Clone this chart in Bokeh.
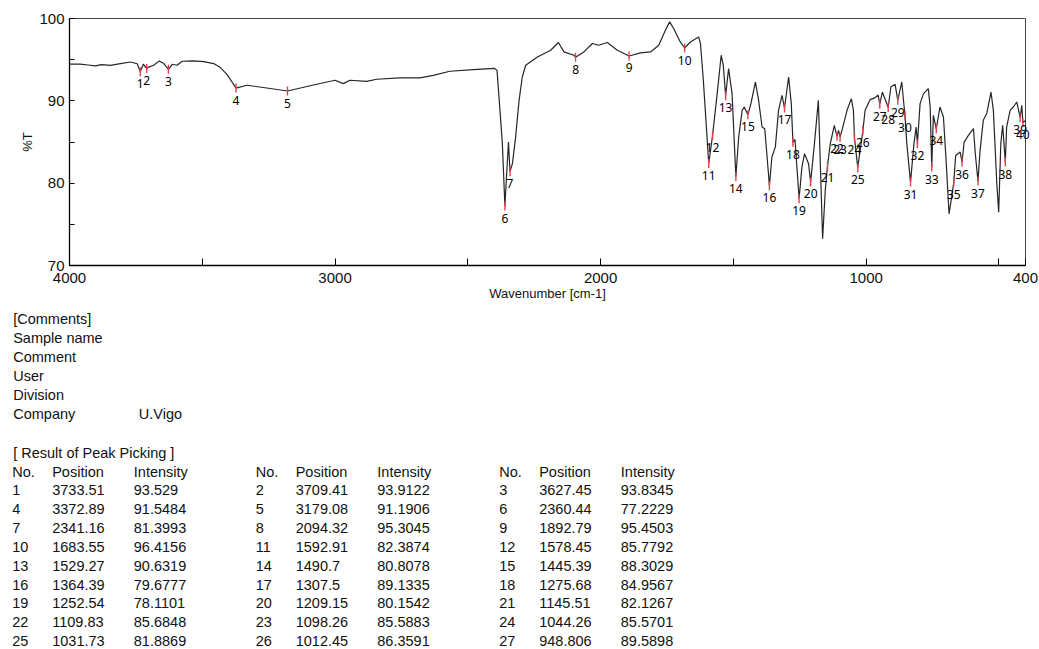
import numpy as np
from bokeh.plotting import figure
from bokeh.models import Range1d, FixedTicker
from bokeh.layouts import column
from bokeh.embed import file_html
from bokeh.resources import INLINE
from bokeh.core.properties import value

# ---------------- data ----------------
wavenumber = [
    4000, 3960, 3930, 3902, 3880, 3846, 3808, 3771, 3745, 3733.51, 3722, 3709.41,
    3702, 3683, 3662, 3645, 3627.45, 3613, 3595, 3576, 3533, 3495, 3457, 3432,
    3407, 3388, 3372.89, 3332, 3257, 3179.08, 3069, 3000, 2969, 2944, 2881, 2843,
    2756, 2680, 2630, 2568, 2480, 2400, 2390, 2370, 2360.44, 2347, 2341.16, 2332,
    2320, 2307, 2295, 2282, 2238, 2188, 2159, 2138, 2101, 2094.32, 2063, 2031,
    2007, 1975, 1937, 1892.79, 1850, 1812, 1781, 1756, 1740, 1725, 1700, 1683.55,
    1662, 1631, 1624, 1614, 1605, 1592.91, 1578.45, 1561, 1546, 1538, 1529.27,
    1518, 1505, 1490.7, 1480, 1467, 1459, 1445.39, 1434, 1417, 1405, 1392, 1382,
    1373, 1364.39, 1355, 1342, 1330, 1317, 1307.5, 1292, 1282, 1275.68, 1268,
    1252.54, 1242, 1232, 1217, 1209.15, 1196, 1180, 1164, 1154, 1145.51, 1135,
    1120, 1109.83, 1104, 1098.26, 1091, 1072, 1056, 1048, 1044.26, 1031.73,
    1012.45, 1004, 985, 966, 955, 948.806, 939, 917, 907, 891, 881, 866, 854, 847,
    833, 820, 812, 807, 797, 784, 766, 759, 753, 747, 736, 722, 709, 699, 688, 678,
    670, 663, 646, 639, 631, 615, 596, 589, 579, 571, 559, 546, 530, 521, 508, 501,
    493, 486, 476, 471, 458, 446, 433, 420, 414, 410, 400,
]
transmittance = [
    94.45, 94.45, 94.35, 94.24, 94.40, 94.30, 94.53, 94.72, 94.50, 93.529, 94.45, 93.9122,
    94.10, 94.32, 94.85, 94.53, 93.8345, 94.44, 94.32, 94.81, 94.85, 94.77, 94.53, 94.04,
    93.22, 92.29, 91.5484, 91.89, 91.56, 91.1906, 92.01, 92.50, 92.09, 92.50, 92.37, 92.62,
    92.78, 92.78, 93.10, 93.59, 93.80, 93.95, 93.70, 84.83, 77.2229, 85.00, 81.3993, 82.40,
    85.60, 90.06, 92.90, 94.32, 95.33, 96.14, 97.08, 95.94, 95.54, 95.3045, 95.94, 96.96,
    96.75, 97.08, 96.14, 95.4503, 95.82, 95.94, 96.75, 98.58, 99.59, 98.78, 97.15, 96.4156,
    97.15, 97.76, 96.96, 92.90, 88.45, 82.3874, 85.7792, 90.88, 95.54, 94.32, 90.6319,
    93.92, 90.88, 80.8078, 85.60, 88.85, 89.25, 88.3029, 89.66, 92.29, 90.06, 86.82, 86.62,
    83.17, 79.6777, 83.17, 84.38, 88.85, 90.67, 89.1335, 92.90, 89.66, 84.9567, 85.30,
    78.1101, 81.95, 83.58, 82.37, 80.1542, 84.38, 90.06, 73.24, 79.12, 82.1267, 84.80,
    87.02, 85.6848, 86.40, 85.5883, 86.42, 88.85, 90.27, 88.85, 85.5701, 81.8869,
    86.3591, 88.85, 90.15, 90.39, 90.70, 89.5898, 91.07, 89.20, 91.68, 92.01, 90.06, 92.29, 88.24, 84.80,
    80.13, 84.80, 86.82, 84.80, 89.66, 90.88, 91.49, 89.25, 81.95, 88.24, 86.60, 89.25, 88.03, 82.77, 76.28, 78.30,
    80.13, 83.37, 83.78, 82.56, 84.99, 85.81, 86.62, 83.58, 80.25, 83.98, 87.63, 88.45, 91.07, 88.85, 79.93, 76.48,
    84.80, 87.02, 82.56, 86.82, 88.85, 89.25, 89.86, 87.96, 89.46, 87.35, 87.60,
]

peak_no = list(range(1, 41))
peak_pos = [
    3733.51, 3709.41, 3627.45, 3372.89, 3179.08, 2360.44, 2341.16, 2094.32, 1892.79,
    1683.55, 1592.91, 1578.45, 1529.27, 1490.7, 1445.39, 1364.39, 1307.5, 1275.68,
    1252.54, 1209.15, 1145.51, 1109.83, 1098.26, 1044.26, 1031.73, 1012.45, 948.806,
    917, 881, 854, 833, 807, 753, 736, 670, 639, 579, 476, 420, 410,
]
peak_int = [
    93.529, 93.9122, 93.8345, 91.5484, 91.1906, 77.2229, 81.3993, 95.3045, 95.4503,
    96.4156, 82.3874, 85.7792, 90.6319, 80.8078, 88.3029, 79.6777, 89.1335, 84.9567,
    78.1101, 80.1542, 82.1267, 85.6848, 85.5883, 85.5701, 81.8869, 86.3591, 89.5898,
    89.20, 90.06, 88.24, 80.13, 84.80, 81.95, 86.60, 80.13, 82.56, 80.25, 82.56, 87.96, 87.35,
]
n_table = 27  # peaks listed in the printed table

x_major = [4000, 3000, 2000, 1000, 400]
x_minor = [3500, 2500, 1500, 500]
y_major = [70, 80, 90, 100]
y_minor = [75, 85, 95]

comments_title = "[Comments]"
comment_fields = ["Sample name", "Comment", "User", "Division", "Company"]
comment_values = ["", "", "", "", "U.Vigo"]
table_title = "[ Result of Peak Picking ]"
table_headers = ["No.", "Position", "Intensity"]

# ---------------- layout constants ----------------
W = 1039
H_TOTAL = 649
H1 = 312
H2 = H_TOTAL - H1
FRAME_L, FRAME_R = 69, 1025
FONT = value("Liberation Sans")
INK = "#111111"

# ---------------- spectrum ----------------
p = figure(width=W, height=H1, x_range=Range1d(4000, 400), y_range=Range1d(70, 100),
           output_backend="svg", toolbar_location=None,
           min_border_left=FRAME_L, min_border_right=W - FRAME_R, min_border_top=18,
           min_border_bottom=H1 - 265)
p.background_fill_color = "white"
p.border_fill_color = "white"
p.outline_line_color = "#444444"
p.outline_line_width = 1
p.grid.visible = False

p.line(wavenumber, transmittance, line_color="#262626", line_width=1.2)
p.scatter(peak_pos, peak_int, marker="dash", angle=np.pi / 2, size=9,
          line_color="#e2404e", line_width=1.4)
lbl = p.text(peak_pos, peak_int, text=[str(n) for n in peak_no], y_offset=12,
             text_align="center", text_baseline="middle", text_font=value("Noto Sans"),
             text_font_size="12px", text_color="#000000")
lbl.level = "overlay"

for ax in (p.xaxis[0], p.yaxis[0]):
    ax.axis_line_color = "black"
    ax.axis_line_width = 1.3
    ax.major_tick_line_color = "black"
    ax.minor_tick_line_color = "black"
    ax.major_tick_out = 0
    ax.minor_tick_out = 0
    ax.major_label_text_font = "Liberation Sans"
    ax.major_label_text_font_size = "15px"
    ax.major_label_text_color = INK
    ax.axis_label_text_font = "Liberation Sans"
    ax.axis_label_text_font_style = "normal"
    ax.axis_label_text_color = INK
    ax.axis_label_text_font_size = "13px"

p.xaxis.ticker = FixedTicker(ticks=x_major, minor_ticks=x_minor)
p.xaxis.major_tick_in = 7
p.xaxis.minor_tick_in = 7
p.xaxis.major_label_standoff = 7
p.xaxis.axis_label = "Wavenumber [cm-1]"
p.xaxis.axis_label_standoff = 0

p.yaxis.ticker = FixedTicker(ticks=y_major, minor_ticks=y_minor)
p.yaxis.major_tick_in = 5
p.yaxis.minor_tick_in = 5
p.yaxis.major_label_standoff = 5
p.yaxis.axis_label = "%T"
p.yaxis.axis_label_standoff = 1

# ---------------- text block (comments + peak table) ----------------
# The column layout aligns this frame with the spectrum frame, so the x range
# is chosen to map data x onto page pixels; texts are drawn unclipped.
q = figure(width=W, height=H2, x_range=Range1d(FRAME_L, FRAME_R), y_range=Range1d(H_TOTAL, H1),
           output_backend="svg", toolbar_location=None,
           min_border_left=FRAME_L, min_border_right=W - FRAME_R,
           min_border_top=0, min_border_bottom=0,
           x_axis_type=None, y_axis_type=None)
q.outline_line_color = None
q.grid.visible = False
q.background_fill_color = "white"
q.border_fill_color = "white"

tx, ty, tt = [], [], []
left = 12.7
c_y0, c_step = 318.3, 19.1
tx.append(left); ty.append(c_y0); tt.append(comments_title)
for i, (f, v) in enumerate(zip(comment_fields, comment_values)):
    yy = c_y0 + c_step * (i + 1)
    tx.append(left); ty.append(yy); tt.append(f)
    if v:
        tx.append(138.3); ty.append(yy); tt.append(v)

tx.append(left); ty.append(452.7); tt.append(table_title)
col_x = [11.7, 51.7, 133.3]
group_dx = [0, 243.5, 487.0]
head_y, row_step = 471.0, 18.85
for g in range(3):
    for c in range(3):
        tx.append(col_x[c] + group_dx[g]); ty.append(head_y); tt.append(table_headers[c])
for k in range(n_table):
    r, g = divmod(k, 3)
    yy = head_y + row_step * (r + 1)
    vals = [str(peak_no[k]), f"{peak_pos[k]:.6g}", f"{peak_int[k]:.6g}"]
    for c in range(3):
        tx.append(col_x[c] + group_dx[g]); ty.append(yy); tt.append(vals[c])

txt = q.text(tx, ty, text=tt, text_align="left", text_baseline="middle",
             text_font=FONT, text_font_size="14.5px", text_color=INK)
txt.level = "overlay"

layout = column(p, q, spacing=0)
open("out.html", "w").write(file_html(layout, INLINE))
